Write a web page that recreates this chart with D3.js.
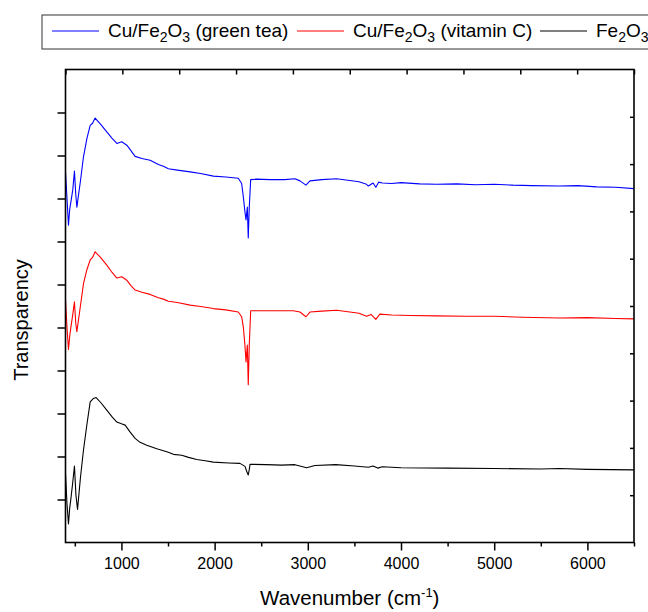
<!DOCTYPE html>
<html>
<head>
<meta charset="utf-8">
<script src="https://cdn.jsdelivr.net/npm/d3@7"></script>
<style>
  body { margin: 0; background: #fff; }
  text { font-family: "Liberation Sans", Arial, sans-serif; fill: #000; }
</style>
</head>
<body>
<svg width="648" height="612"></svg>
<script>
// FTIR spectra: [wavenumber (cm-1), transparency (a.u., offset)]
const greenTea = [
  [400,86.2],[416,80],[432,73.8],[445,77.5],[458,79.2],[478,82],[496,86.4],[510,81],[522,78.0],
  [560,84],[593,89.7],[630,94],[665,97.0],[690,97.5],[718,98.7],[780,97.2],[843,95.5],[900,94],
  [951,92.8],[1004,93.2],[1058,92.4],[1100,91.2],[1147,89.8],[1220,89.3],[1308,88.9],[1397,87.9],
  [1450,87.5],[1504,86.9],[1600,86.6],[1737,86.2],[1850,85.8],[1987,85.2],[2120,85.0],[2254,84.7],
  [2290,83.5],[2308,80.4],[2325,77],[2337,75.0],[2351,78.0],[2361,70.8],[2372,78],[2387,84.4],
  [2450,84.5],[2594,84.4],[2750,84.4],[2862,84.6],[2916,84.1],[2980,83.1],[3023,84.1],[3150,84.4],
  [3309,84.6],[3450,84.2],[3550,83.9],[3630,83.3],[3650,82.9],[3700,83.6],[3730,82.6],[3760,83.8],
  [3800,83.6],[3900,83.5],[4000,83.7],[4200,83.4],[4380,83.3],[4600,83.4],[4800,83.2],[5000,83.3],
  [5200,83.1],[5400,83.0],[5700,82.9],[5900,83.0],[6100,82.7],[6300,82.6],[6500,82.3]
];

const vitaminC = [
  [400,56.5],[416,50],[432,44.9],[445,48],[458,50.1],[478,53],[496,56.0],[510,51],[522,49.0],
  [560,55],[593,60.2],[630,63.5],[665,65.7],[690,66.3],[718,67.6],[780,66.2],[843,64.5],[900,62.8],
  [951,61.5],[1004,61.8],[1058,61.0],[1100,59.8],[1147,58.7],[1220,58.2],[1308,57.7],[1397,56.9],
  [1450,56.6],[1504,56.1],[1600,55.8],[1737,55.2],[1850,54.9],[1987,54.4],[2120,54.1],[2254,53.6],
  [2290,52.5],[2308,50.1],[2325,46],[2337,42.0],[2351,45.9],[2361,36.7],[2372,46],[2387,53.9],
  [2594,53.9],[2844,53.9],[2916,53.6],[2980,52.5],[3023,53.6],[3150,53.8],[3309,54.0],[3450,53.6],
  [3550,53.3],[3630,52.6],[3680,53.0],[3730,51.9],[3773,53.1],[3900,52.9],[4100,52.8],[4380,52.7],
  [4700,52.6],[5000,52.6],[5300,52.4],[5700,52.2],[6000,52.3],[6300,52.1],[6500,52.0]
];

const bareFe2O3 = [
  [400,16.0],[416,9],[432,4.3],[445,8],[458,10.2],[478,14],[496,17.8],[512,11],[529,7.7],
  [560,15],[593,21.5],[630,27.5],[665,32.7],[700,33.5],[729,33.7],[780,32.5],[843,30.8],[900,29.2],
  [951,28.0],[1000,27.6],[1040,27.3],[1090,25.8],[1147,24.2],[1200,23.3],[1272,22.6],[1380,21.8],
  [1487,21.1],[1558,20.5],[1647,20.3],[1720,19.8],[1808,19.3],[1900,19.0],[1987,18.7],[2150,18.5],
  [2272,18.4],[2326,17.7],[2345,16.5],[2361,15.7],[2372,17],[2380,18.2],[2550,18.1],[2719,18.0],
  [2862,18.1],[2987,17.4],[3076,17.9],[3300,18.1],[3500,17.8],[3650,17.5],[3700,17.8],[3750,17.3],
  [3800,17.6],[4000,17.4],[4500,17.3],[5000,17.2],[5500,17.1],[5700,17.2],[6000,17.0],[6500,16.9]
];

const xMajorTicks = [1000, 2000, 3000, 4000, 5000, 6000];
const xMinorTicks = [500, 1500, 2500, 3500, 4500, 5500, 6500];

const series = [
  { name: 'Cu/Fe|2|O|3| (green tea)', color: '#0000ff', data: greenTea },
  { name: 'Cu/Fe|2|O|3| (vitamin C)', color: '#ff0000', data: vitaminC },
  { name: 'Fe|2|O|3|', color: '#000000', data: bareFe2O3 }
];

// plot frame
const box = { left: 65.5, right: 634, top: 69.5, bottom: 542.5 };

const svg = d3.select('svg');

const x = d3.scaleLinear().domain([400, 6500]).range([box.left, box.right]);
const y = d3.scaleLinear().domain([0, 110]).range([box.bottom, box.top]);
// top axis has its own evenly spaced ticks
const xTop = d3.scaleLinear().domain([0, 10]).range([box.left, box.right]);

const styleAxis = g => {
  g.select('.domain').remove();
  g.selectAll('.tick line').attr('stroke', '#000').attr('stroke-width', 1.5);
};

// bottom axis (major + minor)
svg.append('g')
  .attr('transform', `translate(0, ${box.bottom})`)
  .call(d3.axisBottom(x).tickValues(xMajorTicks).tickSize(8).tickPadding(7).tickFormat(d3.format('d')))
  .call(styleAxis)
  .call(g => g.selectAll('.tick text').attr('font-size', 16).attr('font-family', '"Liberation Sans", Arial, sans-serif'));

svg.append('g')
  .attr('transform', `translate(0, ${box.bottom})`)
  .call(d3.axisBottom(x).tickValues(xMinorTicks).tickSize(4).tickFormat(''))
  .call(styleAxis);

// top axis, ticks inward
svg.append('g')
  .attr('transform', `translate(0, ${box.top})`)
  .call(d3.axisTop(xTop).ticks(10).tickSize(-5).tickFormat(''))
  .call(styleAxis);

// left axis, ticks outward, no labels
svg.append('g')
  .attr('transform', `translate(${box.left}, 0)`)
  .call(d3.axisLeft(y).tickValues(d3.range(10, 110, 10)).tickSize(8).tickFormat(''))
  .call(styleAxis);

// right axis, ticks inward
svg.append('g')
  .attr('transform', `translate(${box.right}, 0)`)
  .call(d3.axisRight(y).tickValues(d3.range(11, 110, 11)).tickSize(-4).tickFormat(''))
  .call(styleAxis);

// spectra
const line = d3.line().x(d => x(d[0])).y(d => y(d[1]));
svg.append('g').selectAll('path')
  .data(series)
  .enter().append('path')
  .attr('d', s => line(s.data))
  .attr('fill', 'none')
  .attr('stroke', s => s.color)
  .attr('stroke-width', 1.1)
  .attr('stroke-linejoin', 'round');

// frame
svg.append('rect')
  .attr('x', box.left).attr('y', box.top)
  .attr('width', box.right - box.left).attr('height', box.bottom - box.top)
  .attr('fill', 'none').attr('stroke', '#000').attr('stroke-width', 1.6);

// chemical-formula text: segments split by '|', odd ones are subscripts
const addFormula = (sel, str) => {
  str.split('|').forEach((part, i) => {
    if (!part) return;
    if (i % 2 === 1) {
      sel.append('tspan').attr('font-size', 14).attr('dy', 5).text(part);
    } else {
      sel.append('tspan').attr('dy', i === 0 ? 0 : -5).text(part);
    }
  });
};

// legend (runs off the right edge like the original)
const legend = svg.append('g');
legend.append('rect')
  .attr('x', 42).attr('y', 15).attr('width', 660).attr('height', 34)
  .attr('fill', '#fff').attr('stroke', '#333').attr('stroke-width', 1);

const legendX = [52, 297, 540];
series.forEach((s, i) => {
  legend.append('line')
    .attr('x1', legendX[i]).attr('x2', legendX[i] + 47)
    .attr('y1', 31).attr('y2', 31)
    .attr('stroke', s.color).attr('stroke-width', 1.2);
  const t = legend.append('text')
    .attr('x', legendX[i] + 56).attr('y', 37)
    .attr('font-size', 19);
  addFormula(t, s.name);
});

// axis titles
const xt = svg.append('text')
  .attr('x', (box.left + box.right) / 2).attr('y', 605)
  .attr('text-anchor', 'middle').attr('font-size', 20.5);
xt.append('tspan').text('Wavenumber (cm');
xt.append('tspan').attr('font-size', 13).attr('dy', -8).text('-1');
xt.append('tspan').attr('dy', 8).text(')');

svg.append('text')
  .attr('transform', 'translate(28, 320) rotate(-90)')
  .attr('text-anchor', 'middle').attr('font-size', 20)
  .text('Transparency');
</script>
</body>
</html>
